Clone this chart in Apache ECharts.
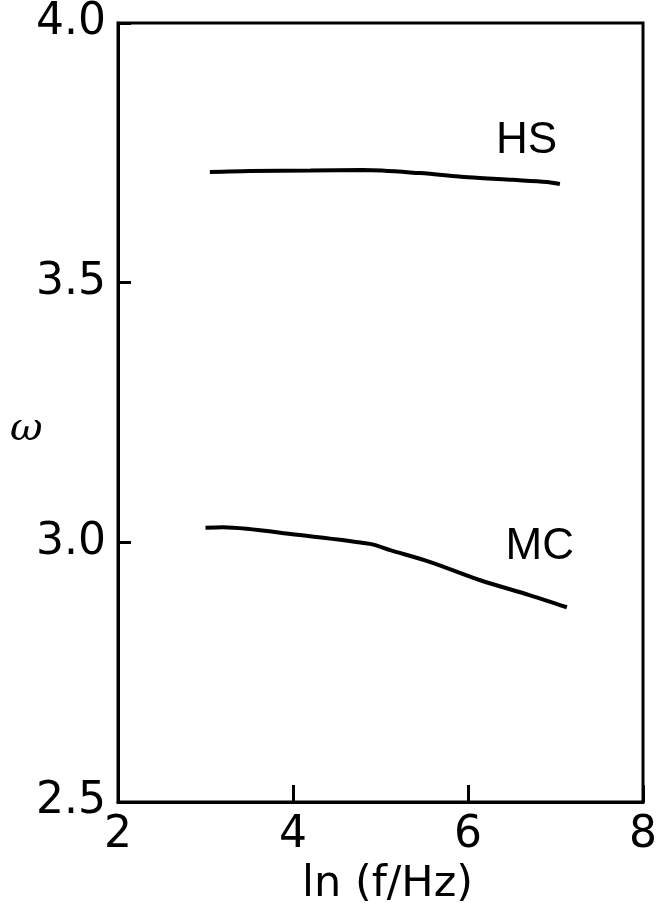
<!DOCTYPE html>
<html>
<head>
<meta charset="utf-8">
<script src="https://cdn.jsdelivr.net/npm/echarts@6/dist/echarts.min.js"></script>
<style>html,body{margin:0;padding:0;background:#fff}#c{width:660px;height:903px}</style>
</head>
<body>
<div id="c"></div>
<script>
var xTicks = [2, 4, 6, 8];
var yTicks = [2.5, 3.0, 3.5, 4.0];
var hsData = [[3.05, 3.713], [3.5, 3.715], [4.2, 3.716], [4.8, 3.717], [5.45, 3.711], [6.0, 3.703], [6.51, 3.698], [6.9, 3.694], [7.05, 3.690]];
var mcData = [[3.0, 3.028], [3.2, 3.029], [3.47, 3.026], [3.97, 3.016], [4.88, 2.997], [5.11, 2.985], [5.57, 2.962], [6.14, 2.927], [6.71, 2.898], [7.13, 2.875]];
var seriesNames = ['HS', 'MC'];
var labelPos = [[6.67, 3.773], [6.82, 2.991]];

var chart = echarts.init(document.getElementById('c'));
var font = 'DejaVu Sans';
chart.setOption({
  animation: false,
  backgroundColor: '#fff',
  grid: { left: 118, right: 17, top: 23, bottom: 101, containLabel: false, outerBoundsMode: 'none',
    show: true, borderColor: '#000', borderWidth: 3 },
  graphic: [{
    type: 'text', left: 10, top: 410,
    style: { text: 'ω', font: 'italic 40px "DejaVu Serif"', fill: '#000' }
  }],
  xAxis: {
    type: 'value', min: 2, max: 8, interval: 2,
    name: 'ln (f/Hz)', nameLocation: 'middle', nameGap: 59,
    nameTextStyle: { fontFamily: 'DejaVu Sans', fontSize: 43, color: '#000', padding: [0, 0, 0, 14] },
    axisLine: { show: true, lineStyle: { color: '#000', width: 3 } },
    axisTick: { show: true, inside: true, length: 17, lineStyle: { color: '#000', width: 3 } },
    axisLabel: { fontFamily: font, fontSize: 44, color: '#000', margin: 12 },
    splitLine: { show: false }
  },
  yAxis: {
    type: 'value', min: 2.5, max: 4.0, interval: 0.5,
    axisLine: { show: true, lineStyle: { color: '#000', width: 3 } },
    axisTick: { show: true, inside: true, length: 13, lineStyle: { color: '#000', width: 3 } },
    axisLabel: { fontFamily: font, fontSize: 44, color: '#000', margin: 12,
      formatter: function (v) { return v.toFixed(1); } },
    splitLine: { show: false }
  },
  series: [hsData, mcData].map(function (d, i) {
    return {
      name: seriesNames[i], type: 'line', data: d, smooth: 0.3, symbol: 'none',
      lineStyle: { color: '#000', width: 4 },
      markPoint: {
        symbol: 'circle', symbolSize: 0,
        data: [{ coord: labelPos[i], value: seriesNames[i] }],
        label: { show: true, position: 'inside', formatter: seriesNames[i], fontFamily: 'Liberation Sans', fontSize: 44, color: '#000' }
      }
    };
  })
});
</script>
</body>
</html>
